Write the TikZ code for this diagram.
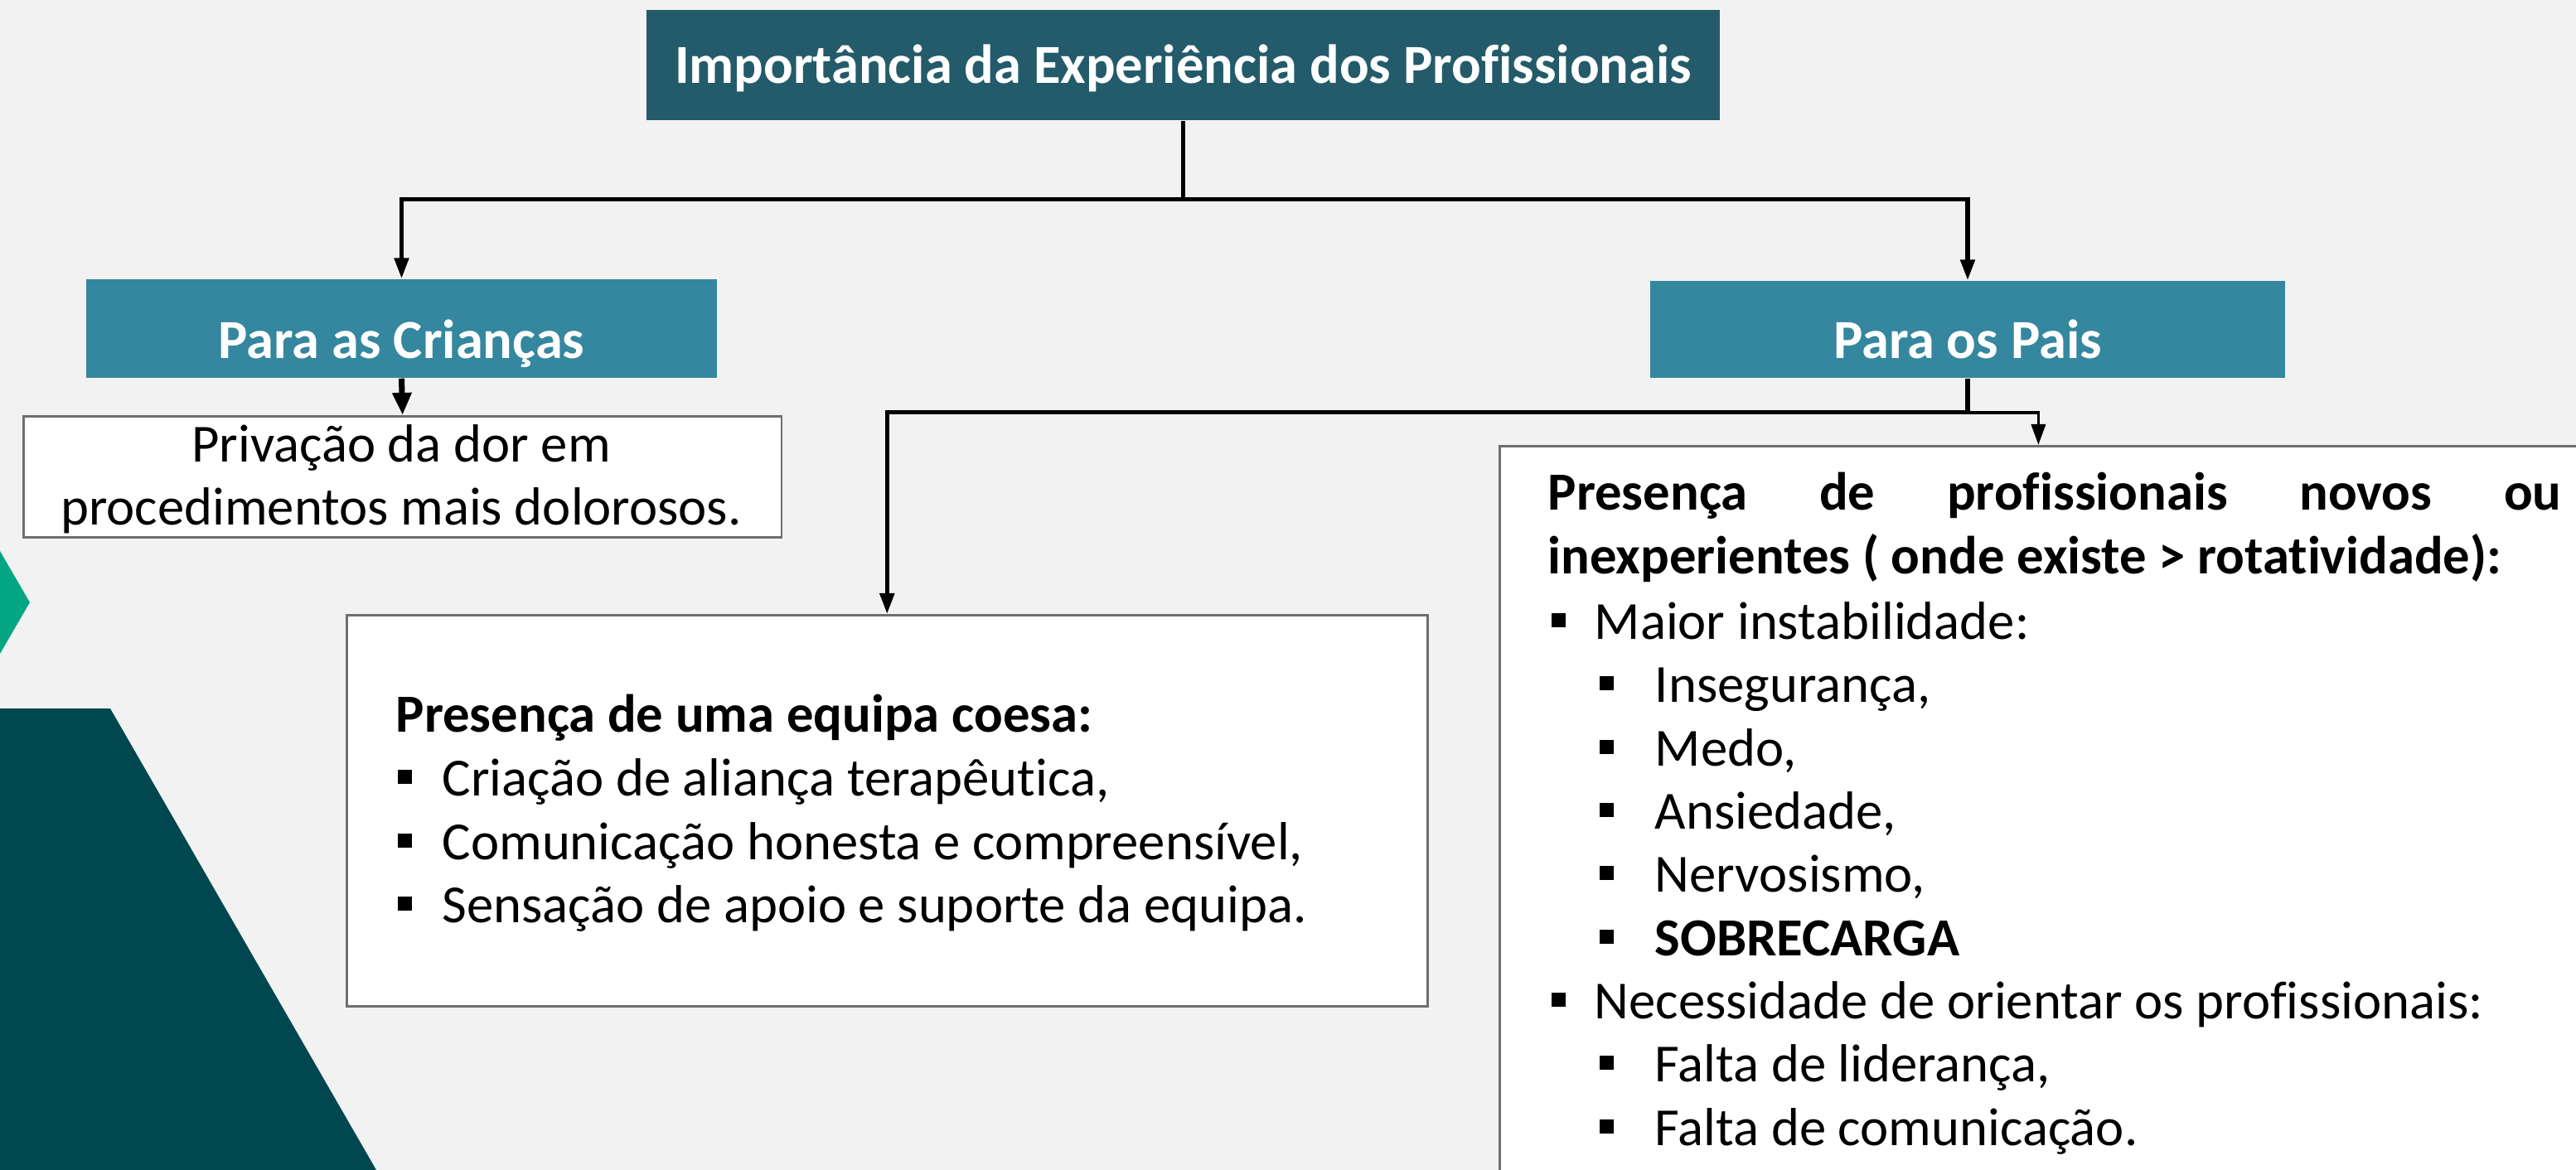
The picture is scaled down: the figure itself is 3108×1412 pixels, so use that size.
\documentclass[tikz,border=0pt]{standalone}
\usepackage{fontspec}
\setmainfont{Carlito}[Ligatures=NoCommon]
\usetikzlibrary{arrows.meta,calc}
\definecolor{bgc}{HTML}{F2F2F2}
\definecolor{titlec}{HTML}{235B6A}
\definecolor{subc}{HTML}{34879E}
\definecolor{greenc}{HTML}{05A684}
\definecolor{darkc}{HTML}{00474F}
\definecolor{borderc}{HTML}{6E6E6E}
\newcommand{\bul}{\rule[0.14cm]{0.17cm}{0.17cm}}
\newcommand{\itm}[2]{\makebox[#1][l]{\bul}#2}
\tikzset{
  headbox/.style={rectangle, fill=#1, draw=none, inner sep=0pt, text=white,
    font=\fontsize{18.9}{22}\selectfont\bfseries},
  wbox/.style={rectangle, fill=white, draw=borderc, line width=0.8pt, inner sep=0pt, anchor=north west},
  txt/.style={anchor=base west, inner sep=0pt, font=\fontsize{18.4}{21}\selectfont},
  ctxt/.style={anchor=base, inner sep=0pt, font=\fontsize{18.4}{21}\selectfont},
  conn/.style={line width=1.5pt, draw=black},
  thinconn/.style={line width=1pt, draw=black},
  tip/.style={-{Triangle[length=0.25cm,width=0.17cm]}},
  bigtip/.style={-{Triangle[length=0.27cm,width=0.22cm]}}
}
\begin{document}
\begin{tikzpicture}[x=0.01cm,y=-0.01cm]
\useasboundingbox (0,0) rectangle (3108,1412);
\clip (0,0) rectangle (3108,1412);
\fill[bgc] (0,0) rectangle (3108,1412);
% decorations
\fill[greenc] (0,665) -- (36,727) -- (0,789) -- cycle;
\fill[darkc] (0,855) -- (133,855) -- (454,1412) -- (0,1412) -- cycle;

% header boxes
\node[headbox=titlec, minimum width=12.95cm, minimum height=1.33cm, text height=0.43cm, text depth=0pt]
  (title) at (1427.5,78.5) {Importância da Experiência dos Profissionais};
\node[headbox=subc, minimum width=7.61cm, minimum height=1.19cm, text height=0.71cm, text depth=0pt]
  (crian) at (484.5,396.5) {Para as Crianças};
\node[headbox=subc, minimum width=7.66cm, minimum height=1.17cm, text height=0.69cm, text depth=0pt]
  (pais) at (2374,397.5) {Para os Pais};

% white boxes
\node[wbox, minimum width=9.14cm, minimum height=1.46cm] (priv) at (27,501) {};
\node[wbox, minimum width=13.03cm, minimum height=4.72cm] (lbox) at (417,741) {};
\node[wbox, minimum width=14.92cm, minimum height=10cm] (rbox) at (1808,537) {};

% text of Privação box
\node[ctxt] (p1) at (484,557) {Privação da dor em};
\node[ctxt] (p2) at (484,633) {procedimentos mais dolorosos.};

% text of left box
\node[txt] (l0) at (477,883) {\bfseries Presença de uma equipa coesa:};
\node[txt] (l1) at (479,960) {\itm{0.54cm}{Criação de aliança terapêutica,}};
\node[txt] (l2) at (479,1037) {\itm{0.54cm}{Comunicação honesta e compreensível,}};
\node[txt] (l3) at (479,1113) {\itm{0.54cm}{Sensação de apoio e suporte da equipa.}};

% text of right box
\node[txt] (r0) at (1867,615) {\bfseries\makebox[12.22cm][s]{Presença de profissionais novos ou}};
\node[txt] (r1) at (1867,692) {\bfseries inexperientes ( onde existe > rotatividade):};
\node[txt] (r2) at (1871,771) {\itm{0.52cm}{Maior instabilidade:}};
\node[txt] (r3) at (1929,847) {\itm{0.67cm}{Insegurança,}};
\node[txt] (r4) at (1929,924) {\itm{0.67cm}{Medo,}};
\node[txt] (r5) at (1929,1000) {\itm{0.67cm}{Ansiedade,}};
\node[txt] (r6) at (1929,1076) {\itm{0.67cm}{Nervosismo,}};
\node[txt] (r7) at (1929,1153) {\itm{0.67cm}{\bfseries SOBRECARGA}};
\node[txt] (r8) at (1871,1229) {\itm{0.52cm}{Necessidade de orientar os profissionais:}};
\node[txt] (r9) at (1929,1305) {\itm{0.67cm}{Falta de liderança,}};
\node[txt] (r10) at (1929,1382) {\itm{0.67cm}{Falta de comunicação.}};

% connectors
\draw[conn] (title.south) -- ++(0,95) coordinate (tj);
\draw[conn,tip] (tj) -| (crian.north);
\draw[conn,tip] (tj) -| (pais.north);
\draw[line width=2pt,bigtip] (crian.south) -- (priv.north);
\draw[conn] (pais.south) -- ++(0,41) coordinate (pj);
\coordinate (rtip) at ([xshift=6.51cm]rbox.north west);
\draw[conn,tip] (pj) -| (lbox.north);
\draw[thinconn,tip] (pj) -| (rtip);
\end{tikzpicture}
\end{document}
